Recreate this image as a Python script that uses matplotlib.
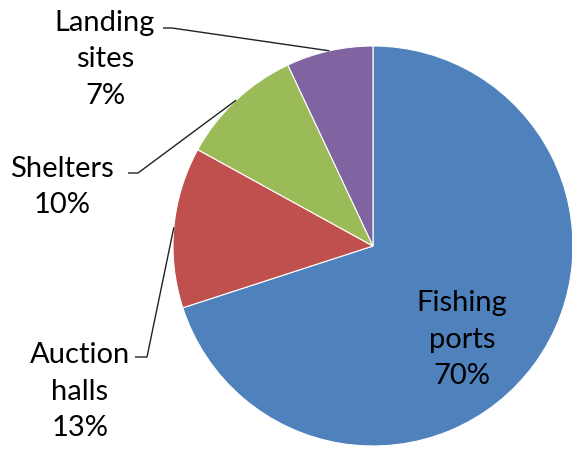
import numpy as np
import matplotlib.pyplot as plt

# share of infrastructure by type
labels = ['Fishing\nports', 'Auction\nhalls', 'Shelters', 'Landing\nsites']
shares = [70, 13, 10, 7]
colors = ['#4F81BD', '#C0504D', '#9BBB59', '#8064A2']

plt.rcParams['font.family'] = ['Lato', 'DejaVu Sans']

W, H = 572, 452
fig = plt.figure(figsize=(W / 100, H / 100), dpi=100)
ax = fig.add_axes([0, 0, 1, 1])

cx, cy, r = 373, H - 247, 200
wedges, _ = ax.pie(shares, colors=colors, startangle=90, counterclock=False,
                   center=(cx, cy), radius=r, frame=True,
                   wedgeprops=dict(edgecolor='white', linewidth=0.8))
ax.set_xlim(0, W)
ax.set_ylim(0, H)
ax.set_aspect('equal')
ax.axis('off')

fs = 21
ls = 1.5
# label inside the big slice
ax.text(462, H - 340, f'{labels[0]}\n{shares[0]}%', ha='center', va='center',
        fontsize=fs, linespacing=ls)

# outside labels: text centre, leader start (end of first line), knee
outside = [
    (1, (80, H - 392), (135, H - 358), (147, H - 358)),
    (2, (62, H - 187), (128, H - 174), (138, H - 174)),
    (3, (105, H - 59), (163, H - 29), (172, H - 29)),
]
for i, txt_xy, start, knee in outside:
    ax.text(txt_xy[0], txt_xy[1], f'{labels[i]}\n{shares[i]}%', ha='center',
            va='center', fontsize=fs, linespacing=ls)
    w = wedges[i]
    mid = np.deg2rad((w.theta1 + w.theta2) / 2)
    rim = (cx + r * np.cos(mid), cy + r * np.sin(mid))
    ax.plot([start[0], knee[0], rim[0]], [start[1], knee[1], rim[1]],
            color='#222222', lw=1.0, solid_capstyle='butt')

fig.savefig('out.png', dpi=100)
